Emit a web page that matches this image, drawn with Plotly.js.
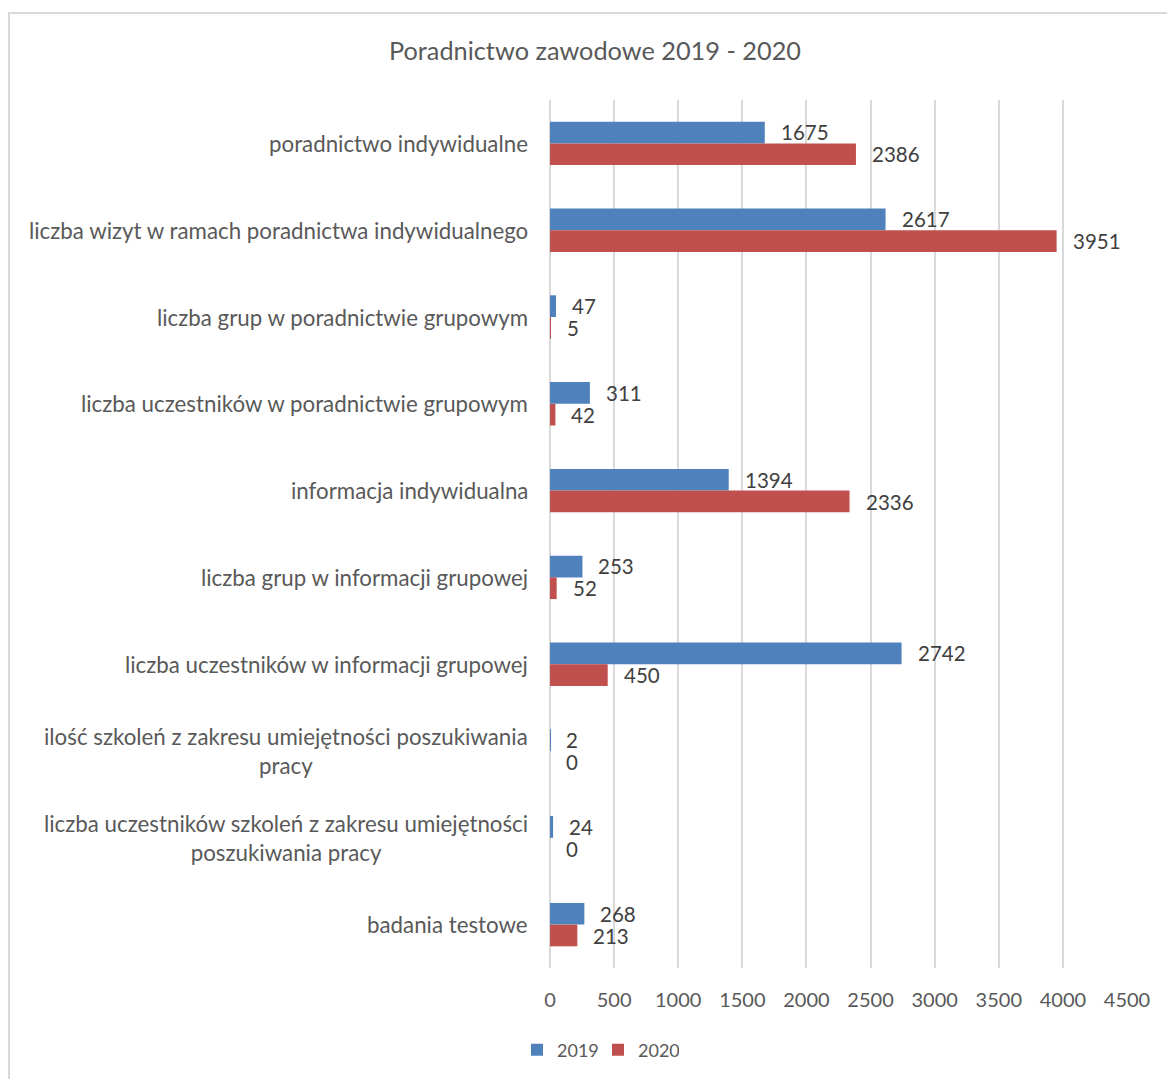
<!DOCTYPE html>
<html>
<head>
<meta charset="utf-8">
<script src="https://cdn.plot.ly/plotly-3.0.1.min.js"></script>
<style>
  html, body { margin: 0; padding: 0; background: #ffffff; overflow: hidden; }
  #frame { position: absolute; left: 8px; top: 12px; width: 1180px; height: 1090px; border: 2px solid #d9d9d9; box-sizing: border-box; }
  #chart { position: absolute; left: 0; top: 0; width: 1167px; height: 1079px; }
</style>
</head>
<body>
<div id="frame"></div>
<div id="chart"></div>
<script>
const categories = [
  "poradnictwo indywidualne",
  "liczba wizyt w ramach poradnictwa indywidualnego",
  "liczba grup w poradnictwie grupowym",
  "liczba uczestników w poradnictwie grupowym",
  "informacja indywidualna",
  "liczba grup w informacji grupowej",
  "liczba uczestników w informacji grupowej",
  "ilość szkoleń z zakresu umiejętności poszukiwania<br>pracy",
  "liczba uczestników szkoleń z zakresu umiejętności<br>poszukiwania pracy",
  "badania testowe"
];
const values2019 = [1675, 2617, 47, 311, 1394, 253, 2742, 2, 24, 268];
const values2020 = [2386, 3951, 5, 42, 2336, 52, 450, 0, 0, 213];
const seriesNames = ["2019", "2020"];
const tickValues = [0, 500, 1000, 1500, 2000, 2500, 3000, 3500, 4000, 4500];

const FONT = "Lato, 'Open Sans', sans-serif";
const colors = ["#4F81BD", "#C0504D"];

const traces = [values2019, values2020].map((vals, i) => ({
  type: "bar",
  orientation: "h",
  name: seriesNames[i],
  x: vals,
  y: categories,
  marker: { color: colors[i] },
  hoverinfo: "x+name"
}));

const annotations = [];
// value labels
[values2019, values2020].forEach((vals, i) => {
  vals.forEach((v, j) => {
    annotations.push({
      x: v, y: categories[j], xref: "x", yref: "y",
      text: String(v), showarrow: false,
      xanchor: "left", yanchor: "middle",
      xshift: 14, yshift: i === 0 ? 11 : -11,
      font: { family: FONT, size: 20.5, color: "#404040" }
    });
  });
});
// category labels (centered multi-line)
categories.forEach((c, j) => {
  annotations.push({
    x: 0, y: c, xref: "paper", yref: "y",
    text: c, showarrow: false,
    xanchor: "right", yanchor: "middle", align: "center",
    xshift: -20,
    font: { family: FONT, size: 22.3, color: "#595959" }
  });
});

const layout = {
  width: 1167, height: 1079,
  paper_bgcolor: "rgba(0,0,0,0)",
  plot_bgcolor: "rgba(0,0,0,0)",
  margin: { l: 550, r: 40, t: 100, b: 111 },
  font: { family: FONT, color: "#595959" },
  title: {
    text: "Poradnictwo zawodowe 2019 - 2020",
    font: { family: FONT, size: 25.3, color: "#595959" },
    xref: "container", x: 595 / 1167, xanchor: "center",
    yref: "container", y: 1 - 51 / 1079, yanchor: "middle"
  },
  barmode: "group",
  bargap: 0.5,
  bargroupgap: 0,
  xaxis: {
    range: [0, 4500],
    tickvals: tickValues,
    ticktext: tickValues.map(String),
    showgrid: true, gridcolor: "#d9d9d9", gridwidth: 2,
    zeroline: true, zerolinecolor: "#d9d9d9", zerolinewidth: 2,
    showline: false,
    ticks: "outside", ticklen: 14, tickcolor: "rgba(0,0,0,0)",
    tickfont: { family: FONT, size: 20, color: "#595959" },
    fixedrange: true
  },
  yaxis: {
    autorange: "reversed",
    showticklabels: false,
    showgrid: false, zeroline: false, showline: false, ticks: "",
    fixedrange: true
  },
  showlegend: true,
  legend: {
    orientation: "h",
    xref: "container", x: 598 / 1167, xanchor: "center",
    yref: "container", y: 1 - 1050 / 1079, yanchor: "middle",
    font: { family: FONT, size: 18, color: "#595959" },
    itemwidth: 30,
    entrywidth: 36, entrywidthmode: "pixels",
    traceorder: "normal"
  },
  annotations: annotations
};

Plotly.newPlot("chart", traces, layout, { displayModeBar: false, staticPlot: false });
</script>
</body>
</html>
